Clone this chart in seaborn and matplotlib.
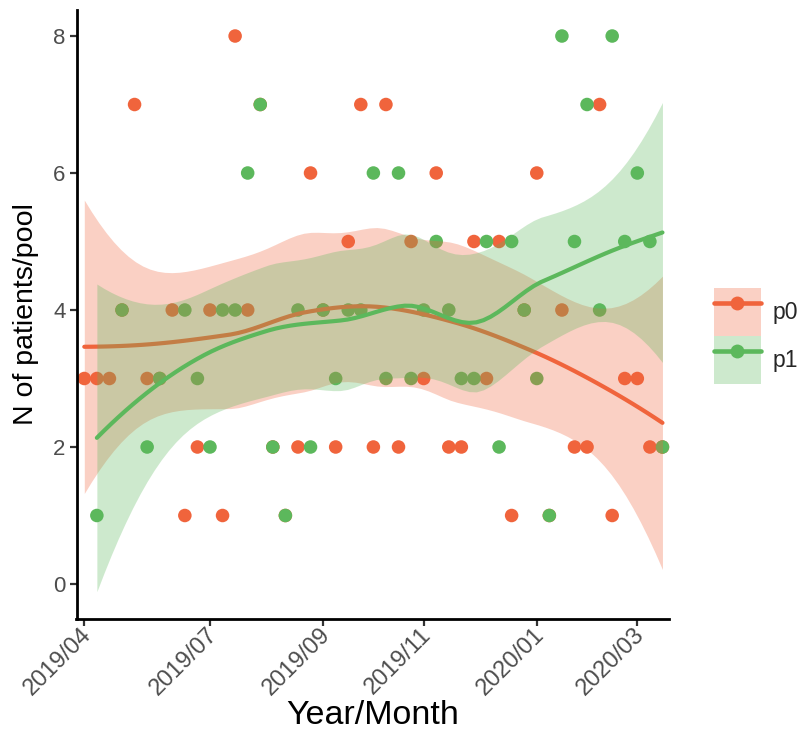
import numpy as np
import pandas as pd
import matplotlib
matplotlib.use("Agg")
import matplotlib.pyplot as plt
import matplotlib.dates as mdates
from matplotlib.lines import Line2D
from matplotlib.patches import Patch
from matplotlib.transforms import ScaledTranslation
import seaborn as sns

sns.set_theme(style="ticks")
plt.rcParams['font.family'] = ['Liberation Sans', 'DejaVu Sans']

# ---------------------------------------------------------------
# data: weekly pools, week index -> N of patients per pool
# (some p0 pools sit exactly under a p1 pool of the same size)
# ---------------------------------------------------------------
start_date = "2019-04-29"

p0_weeks = [0, 1, 2, 3, 4, 5, 6, 7, 8, 9, 10, 11, 12, 13, 14, 15, 16, 17, 18, 19,
            20, 21, 22, 23, 24, 25, 26, 27, 28, 29, 30, 31, 32, 33, 34, 35, 36, 37,
            38, 39, 40, 41, 42, 43, 44, 45, 46]
p0_values = [3, 3, 3, 4, 7, 3, 3, 4, 1, 2, 4, 1, 8, 4, 7, 2, 1, 2, 6, 4,
             2, 5, 7, 2, 7, 2, 5, 3, 6, 2, 2, 5, 3, 5, 1, 4, 6, 1,
             4, 2, 2, 7, 1, 3, 3, 2, 2]

p1_weeks = [1, 3, 5, 6, 8, 9, 10, 11, 12, 13, 14, 15, 16, 17, 18, 19, 20, 21, 22, 23,
            24, 25, 26, 27, 28, 29, 30, 31, 32, 33, 34, 35, 36, 37, 38, 39, 40, 41, 42,
            43, 44, 45, 46]
p1_values = [1, 4, 2, 3, 4, 3, 2, 4, 4, 6, 7, 2, 1, 4, 2, 4, 3, 4, 4, 6,
             3, 6, 3, 4, 5, 4, 3, 3, 5, 2, 5, 4, 3, 1, 8, 5, 7, 4, 8,
             5, 6, 5, 2]

tick_weeks = [0, 10, 19, 27, 36, 44]

groups = ["p0", "p1"]
colors = {"p0": "#F0643C", "p1": "#5CB85C"}

base = pd.Timestamp(start_date)
df = pd.concat([
    pd.DataFrame({"week": p0_weeks, "n": p0_values, "group": "p0"}),
    pd.DataFrame({"week": p1_weeks, "n": p1_values, "group": "p1"}),
], ignore_index=True)
df["date"] = base + pd.to_timedelta(df["week"] * 7, unit="D")


# ---------------------------------------------------------------
# loess (span 0.75, degree 2, kd-tree + cubic interpolation, like R)
# ---------------------------------------------------------------
def local_rows(x, x0, q):
    d = np.abs(x - x0)
    h = np.sort(d)[q - 1] * 1.0000001
    w = np.clip(1 - (d / h) ** 3, 0, None) ** 3
    X = np.column_stack([np.ones_like(x), x - x0, (x - x0) ** 2])
    XtW = X.T * w
    S = np.linalg.solve(XtW @ X, XtW)
    return S[0], S[1]


def loess_operator(x, xe, span=0.75, cell=0.2):
    n = len(x)
    q = int(np.floor(n * span))
    fc = int(np.floor(n * span * cell))
    xs = np.sort(x)
    mu = 0.005 * (xs[-1] - xs[0])
    verts = {xs[0] - mu, xs[-1] + mu}

    def split(l, u):
        if u - l + 1 <= fc:
            return
        m = (l + u + 2) // 2 - 1
        verts.add((xs[m] + xs[m + 1]) / 2)
        split(l, m)
        split(m + 1, u)

    split(0, n - 1)
    verts = np.array(sorted(verts))
    vals, slopes = zip(*[local_rows(x, v, q) for v in verts])
    vals, slopes = np.array(vals), np.array(slopes)
    out = []
    for x0 in xe:
        j = min(np.searchsorted(verts, x0, side="right") - 1, len(verts) - 2)
        hh = verts[j + 1] - verts[j]
        u = (x0 - verts[j]) / hh
        phi0 = (1 - u) ** 2 * (1 + 2 * u)
        phi1 = u ** 2 * (3 - 2 * u)
        psi0 = u * (1 - u) ** 2
        psi1 = -u ** 2 * (1 - u)
        out.append(phi0 * vals[j] + phi1 * vals[j + 1]
                   + (psi0 * slopes[j] + psi1 * slopes[j + 1]) * hh)
    return np.array(out)


def loess_fit(x, y, xg, span=0.75):
    x = np.asarray(x, float)
    y = np.asarray(y, float)
    n = len(x)
    L = loess_operator(x, x, span)
    res = y - L @ y
    M = (np.eye(n) - L).T @ (np.eye(n) - L)
    d1 = np.trace(M)
    d2 = np.trace(M @ M)
    sigma = np.sqrt(np.sum(res ** 2) / d1)
    dof = d1 ** 2 / d2
    G = loess_operator(x, xg, span)
    fit = G @ y
    se = sigma * np.sqrt(np.sum(G ** 2, axis=1))
    z = 1.959964
    tq = z + (z ** 3 + z) / (4 * dof) + (5 * z ** 5 + 16 * z ** 3 + 3 * z) / (96 * dof ** 2)
    return fit, fit - tq * se, fit + tq * se


# ---------------------------------------------------------------
# plot
# ---------------------------------------------------------------
fig = plt.figure(figsize=(8.06, 7.40), dpi=100)
ax = fig.add_axes([76.5 / 806, 1 - 619 / 740, (669.5 - 76.5) / 806, (619 - 9.5) / 740])

sns.scatterplot(data=df, x="date", y="n", hue="group", palette=colors,
                s=95, linewidth=0, alpha=1, legend=False, ax=ax, zorder=1)

for g in groups:
    sub = df[df["group"] == g]
    wk = sub["week"].to_numpy(float)
    grid = np.linspace(wk.min(), wk.max(), 80)
    fit, lo, hi = loess_fit(wk, sub["n"].to_numpy(float), grid)
    gdates = base + pd.to_timedelta(grid * 7, unit="D")
    ax.fill_between(gdates, lo, hi, color=colors[g], alpha=0.3, linewidth=0, zorder=2)
    sns.lineplot(x=gdates, y=fit, color=colors[g], linewidth=3.0, ax=ax, zorder=2)

ax.set_xlim(base + pd.Timedelta(days=-0.62 * 7), base + pd.Timedelta(days=46.56 * 7))
ax.set_ylim(-0.511, 8.387)
ax.set_yticks([0, 2, 4, 6, 8])
tick_dates = [base + pd.Timedelta(days=7 * w) for w in tick_weeks]
ax.set_xticks(tick_dates)
ax.xaxis.set_major_formatter(mdates.DateFormatter("%Y/%m"))

ax.tick_params(axis="both", colors="#333333", labelcolor="#4D4D4D",
               width=1.6, length=5, direction="out", pad=3)
ax.tick_params(axis="y", labelsize=16)
ax.tick_params(axis="x", labelsize=17, pad=4)
shift = ScaledTranslation(4 / 100, 0, fig.dpi_scale_trans)
for lab in ax.get_xticklabels():
    lab.set_rotation(45)
    lab.set_ha("right")
    lab.set_va("center")
    lab.set_rotation_mode("anchor")
    lab.set_transform(lab.get_transform() + shift)
for side in ["left", "bottom"]:
    ax.spines[side].set_linewidth(2.0)
    ax.spines[side].set_color("black")
sns.despine(ax=ax)

ax.set_xlabel("Year/Month", fontsize=24.5, color="black", labelpad=0)
ax.set_ylabel("N of patients/pool", fontsize=20.5, color="black", labelpad=10)

handles = []
for g in groups:
    handles.append((Patch(facecolor=colors[g], alpha=0.3, edgecolor="none"),
                    Line2D([], [], color=colors[g], linewidth=3.3, marker="o",
                           markersize=10, markeredgewidth=0)))
fig.legend(handles, groups, loc="center left", bbox_to_anchor=(714 / 806, 1 - 336 / 740),
           frameon=False, fontsize=16.5, handlelength=2.05, handleheight=2.85,
           labelspacing=0.0, handletextpad=0.5, borderaxespad=0, borderpad=0)

fig.savefig("out.png", dpi=100)
